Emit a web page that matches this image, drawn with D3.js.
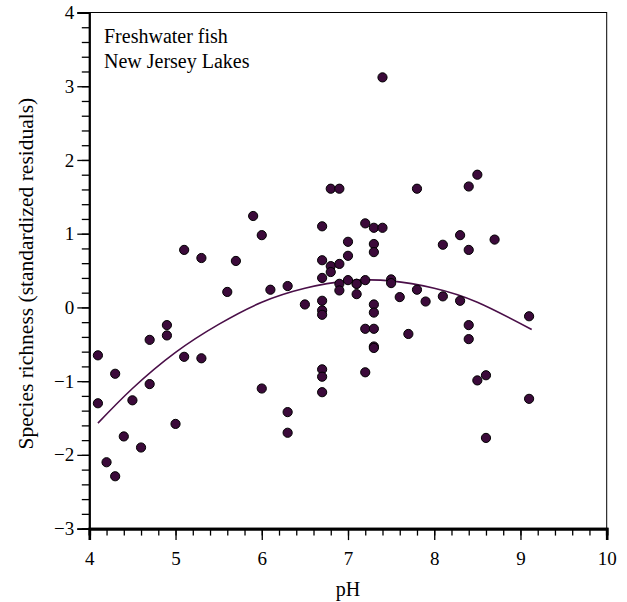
<!DOCTYPE html>
<html><head><meta charset="utf-8">
<script src="https://cdn.jsdelivr.net/npm/d3@7"></script>
<style>body{margin:0;background:#fff;} svg{display:block;}</style>
</head><body>
<script>
const phValues = [4.1,4.1,4.2,4.3,4.3,4.4,4.5,4.6,4.7,4.7,4.9,4.9,5.0,5.1,5.1,5.3,5.3,5.6,5.7,5.9,6.0,6.0,6.1,6.3,6.3,6.3,6.5,
  6.7,6.7,6.7,6.7,6.7,6.7,6.7,6.7,6.7,6.8,6.8,6.8,6.9,6.9,6.9,6.9,7.0,7.0,7.0,7.1,7.1,7.1,7.2,7.2,7.2,7.2,
  7.3,7.3,7.3,7.3,7.3,7.3,7.3,7.3,7.4,7.4,7.5,7.5,7.6,7.7,7.8,7.8,7.9,8.1,8.1,8.3,8.3,8.4,8.4,8.4,8.4,8.5,8.5,8.6,8.6,8.7,9.1,9.1];
const richness = [-0.65,-1.30,-2.10,-0.90,-2.29,-1.75,-1.26,-1.90,-0.44,-1.04,-0.24,-0.38,-1.58,0.78,-0.67,0.67,-0.69,0.21,0.63,1.24,0.98,-1.10,0.24,0.29,-1.42,-1.70,0.04,
  1.10,0.64,0.40,0.09,-0.04,-0.10,-0.84,-0.94,-1.15,1.61,0.56,0.48,1.61,0.59,0.32,0.23,0.89,0.70,0.37,0.32,0.18,0.32,1.14,0.37,-0.29,-0.88,
  1.08,0.86,0.75,0.04,-0.07,-0.29,-0.53,-0.55,3.12,1.08,0.38,0.33,0.14,-0.36,1.61,0.24,0.08,0.85,0.15,0.98,0.09,1.64,0.78,-0.24,-0.43,1.80,-0.99,-0.92,-1.77,0.92,-0.12,-1.24];
// fitted curve
const fitPH = [4.1,4.5,5.0,5.5,6.0,6.5,7.0,7.5,8.0,8.5,9.13];
const fitY  = [-1.57,-1.10,-0.61,-0.23,0.07,0.26,0.36,0.36,0.26,0.07,-0.30];
const xTicks = [4,5,6,7,8,9,10];
const yTicks = [-3,-2,-1,0,1,2,3,4];
const annotation = ["Freshwater fish","New Jersey Lakes"];

const W=627,H=602;
const L=89.3,R=606.7,T=12.5,B=528.6;
const FONT="'Liberation Serif','Times New Roman',serif";
const svg=d3.select("body").append("svg").attr("width",W).attr("height",H)
  .style("font-family",FONT);
const x=d3.scaleLinear().domain([4,10]).range([L,R]);
const y=d3.scaleLinear().domain([-3,4]).range([B,T]);

// frame (top/right thin)
svg.append("rect").attr("x",L).attr("y",T).attr("width",R-L).attr("height",B-T)
  .attr("fill","none").attr("stroke","#000").attr("stroke-width",1);

// minor ticks
const xMinor=d3.range(4,10.001,0.2), yMinor=d3.range(-3,4.001,0.2);
const gx=svg.append("g").attr("transform",`translate(0,${B})`);
gx.call(d3.axisBottom(x).tickValues(xMinor).tickSize(7).tickFormat(""));
gx.append("g").call(d3.axisBottom(x).tickValues(xTicks).tickSize(11.5).tickPadding(11).tickFormat(d3.format("d")));
gx.selectAll(".domain").attr("stroke-width",2.6);
gx.selectAll("line").attr("stroke-width",1.3);
gx.selectAll("text").attr("font-size",19).attr("fill","#000").attr("font-family",FONT);

const gy=svg.append("g").attr("transform",`translate(${L},0)`);
gy.call(d3.axisLeft(y).tickValues(yMinor).tickSize(7.5).tickFormat(""));
gy.append("g").call(d3.axisLeft(y).tickValues(yTicks).tickSize(12).tickPadding(3).tickFormat(d=>d<0?"\u2212"+Math.abs(d):d));
gy.selectAll(".domain").attr("stroke-width",1.8);
gy.selectAll("line").attr("stroke-width",1.3);
gy.selectAll("text").attr("font-size",19).attr("fill","#000").attr("font-family",FONT);

// fitted curve
svg.append("path").datum(fitPH.map((p,i)=>[p,fitY[i]]))
  .attr("d",d3.line().x(d=>x(d[0])).y(d=>y(d[1])).curve(d3.curveNatural))
  .attr("fill","none").attr("stroke","#4a0f48").attr("stroke-width",1.6);

// points
svg.append("g").selectAll("circle").data(phValues.map((p,i)=>[p,richness[i]])).join("circle")
  .attr("cx",d=>x(d[0])).attr("cy",d=>y(d[1])).attr("r",4.6)
  .attr("fill","#3b0a3a").attr("stroke","#000").attr("stroke-width",1);

// annotation
svg.append("g").selectAll("text").data(annotation).join("text")
  .attr("x",104).attr("y",(d,i)=>43+i*25).text(d=>d).attr("font-size",20);

// axis titles
svg.append("text").attr("x",(L+R)/2).attr("y",596).attr("text-anchor","middle").attr("font-size",20).text("pH");
svg.append("text").attr("transform",`translate(33,${(T+B)/2+3}) rotate(-90)`).attr("text-anchor","middle")
  .attr("font-size",21.5).text("Species richness (standardized residuals)");
</script>
</body></html>
